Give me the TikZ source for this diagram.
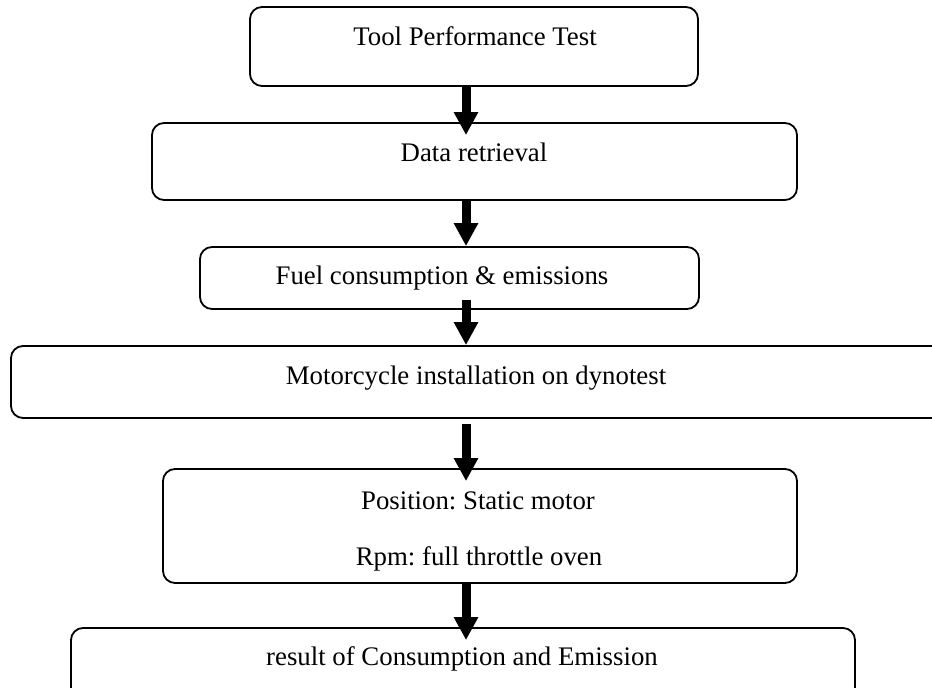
\documentclass[tikz,border=0pt]{standalone}
\usepackage{fontspec}
\setmainfont{Liberation Serif}
\usepackage{tikz}
\usetikzlibrary{arrows.meta,calc}
\frenchspacing

\begin{document}
\begin{tikzpicture}[x=0.5pt,y=-0.5pt,
  box/.style={draw,line width=0.9pt,rounded corners=6pt,inner sep=0pt},
  txt/.style={anchor=base,inner sep=0pt,font=\fontsize{13.4}{15}\selectfont},
  flow/.style={-{Triangle[width=11.5pt,length=11.5pt]},line width=4.5pt}]
  \useasboundingbox (0,0) rectangle (932,688);
  \clip (0,0) rectangle (932,688);
  \node[box,minimum width=224pt,minimum height=39.5pt] (test) at (474,46.5) {};
  \node[box,minimum width=322.5pt,minimum height=38.5pt] (data) at (474.5,161.5) {};
  \node[box,minimum width=249.5pt,minimum height=31pt] (fuel) at (449.5,278) {};
  \node[box,minimum width=469.5pt,minimum height=36pt] (dyno) at (480.5,382) {};
  \node[box,minimum width=317pt,minimum height=57pt] (pos) at (480,526) {};
  \node[box,minimum width=392pt,minimum height=36pt] (res) at (463,664) {};
  \node[txt] (testtxt) at (475,45.5) {Tool Performance Test};
  \node[txt] (datatxt) at (474,162) {Data retrieval};
  \node[txt] (fueltxt) at (442,285) {Fuel consumption \& emissions};
  \node[txt] (dynotxt) at (476,385) {Motorcycle installation on dynotest};
  \node[txt] (postxt) at (478,510) {Position: Static motor};
  \node[txt] (rpmtxt) at (479,566) {Rpm: full throttle oven};
  \node[txt] (restxt) at (462,666) {result of Consumption and Emission};
  \coordinate (ax) at (466,0);
  \draw[flow] (test.south -| ax) -- ($(data.north -| ax)+(0,13)$);
  \draw[flow] (data.south -| ax) -- (fuel.north -| ax);
  \draw[flow] ($(fuel.south -| ax)+(0,-10)$) -- (dyno.north -| ax);
  \draw[flow] ($(dyno.south -| ax)+(0,5)$) -- ($(pos.north -| ax)+(0,13)$);
  \draw[flow] (pos.south -| ax) -- ($(res.north -| ax)+(0,13)$);
\end{tikzpicture}
\end{document}
